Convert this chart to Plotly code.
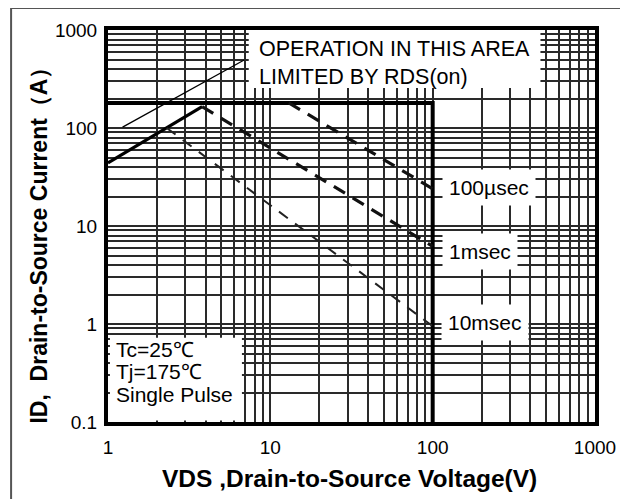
import plotly.graph_objects as go

# ---- data ----
rds_v = [1.23, 6.9]
rds_i = [102, 494]

limit_v = [1.0, 3.8]
limit_i = [44, 165]

box_v = [1.0, 100, 100]
box_i = [180, 180, 0.1]

us100_v = [13, 100]
us100_i = [180, 24]

ms1_v = [3.8, 100]
ms1_i = [165, 6.2]

ms10_v = [2.3, 100]
ms10_i = [100, 0.95]

x_ticks = [1, 10, 100, 1000]
y_ticks = [0.1, 1, 10, 100, 1000]

FONT = "Arial, Liberation Sans, sans-serif"

def grid_vals(lo_exp, hi_exp):
    vals = []
    for e in range(lo_exp, hi_exp):
        for m in range(1, 10):
            vals.append(m * 10 ** e)
    vals.append(10 ** hi_exp)
    return vals

xv = grid_vals(0, 3)
yv = grid_vals(-1, 3)
xt = [(str(v) if v in x_ticks else "") for v in xv]
yt = [(("0.1" if v == 0.1 else str(int(v))) if any(abs(v - t) < 1e-9 for t in y_ticks) else "") for v in yv]

fig = go.Figure()
fig.add_trace(go.Scatter(x=rds_v, y=rds_i, mode="lines", line=dict(color="black", width=1.3), showlegend=False))
fig.add_trace(go.Scatter(x=limit_v, y=limit_i, mode="lines", line=dict(color="black", width=3.2), showlegend=False))
fig.add_trace(go.Scatter(x=box_v, y=box_i, mode="lines", line=dict(color="black", width=4), showlegend=False))
fig.add_trace(go.Scatter(x=us100_v, y=us100_i, mode="lines", line=dict(color="#111", width=3.2, dash="13px,9px"), showlegend=False))
fig.add_trace(go.Scatter(x=ms1_v, y=ms1_i, mode="lines", line=dict(color="#111", width=3.2, dash="13px,9px"), showlegend=False))
fig.add_trace(go.Scatter(x=ms10_v, y=ms10_i, mode="lines", line=dict(color="#222", width=2, dash="11px,9px"), showlegend=False))

# white backing boxes
fig.add_shape(type="rect", xref="paper", yref="paper", x0=0.289, x1=0.888, y0=0.852, y1=1.0,
              fillcolor="white", line=dict(width=0), layer="above")
fig.add_shape(type="rect", xref="paper", yref="paper", x0=0.004, x1=0.275, y0=0.004, y1=0.215,
              fillcolor="white", line=dict(width=0), layer="above")

# outer frame (left & top edges visible)
fig.add_shape(type="line", xref="paper", yref="paper", x0=-0.199, x1=-0.199, y0=1.056, y1=-0.3,
              line=dict(color="#555", width=2))
fig.add_shape(type="line", xref="paper", yref="paper", x0=-0.199, x1=1.1, y0=1.056, y1=1.056,
              line=dict(color="#555", width=2))

ann = []
ann.append(dict(text="OPERATION IN THIS AREA<br>LIMITED BY RDS(on)", xref="paper", yref="paper",
                x=0.305, y=0.988, xanchor="left", yanchor="top", align="left", showarrow=False,
                font=dict(family=FONT, size=21.5, color="black")))
for txt, x, y in [("100µsec", 0.782, 0.597), ("1msec", 0.764, 0.434), ("10msec", 0.774, 0.253)]:
    ann.append(dict(text=txt, xref="paper", yref="paper", x=x, y=y, xanchor="center", yanchor="middle",
                    showarrow=False, bgcolor="white", borderpad=6,
                    font=dict(family=FONT, size=21, color="black")))
for txt, y in [("Tc=25℃", 0.184), ("Tj=175℃", 0.128), ("Single Pulse", 0.069)]:
    ann.append(dict(text=txt, xref="paper", yref="paper", x=0.012, y=y, xanchor="left", yanchor="middle",
                    showarrow=False, font=dict(family=FONT, size=21, color="black")))
ann.append(dict(text="<b>VDS ,Drain-to-Source Voltage(V)</b>", xref="paper", yref="paper",
                x=0.495, y=-0.143, xanchor="center", yanchor="middle", showarrow=False,
                font=dict(family=FONT, size=24.5, color="black")))
ann.append(dict(text="<b>ID,  Drain-to-Source Current（A）</b>", xref="paper", yref="paper",
                x=-0.142, y=0.465, xanchor="center", yanchor="middle", showarrow=False, textangle=-90,
                font=dict(family=FONT, size=23, color="black")))

# page body has an 8px default margin, so the figure is sized/offset to compensate
fig.update_layout(
    width=620, height=491,
    margin=dict(l=100, r=22, t=22, b=77),
    paper_bgcolor="white", plot_bgcolor="white",
    annotations=ann,
    xaxis=dict(type="log", range=[0, 3], tickmode="array", tickvals=xv, ticktext=xt,
               showgrid=True, gridcolor="#2a2a2a", gridwidth=1.7, zeroline=False,
               showline=True, linecolor="black", linewidth=4, mirror=True, ticks="",
               ticklabelstandoff=5,
               tickfont=dict(family=FONT, size=19, color="black")),
    yaxis=dict(type="log", range=[-1, 3], tickmode="array", tickvals=yv, ticktext=yt,
               showgrid=True, gridcolor="#2a2a2a", gridwidth=1.7, zeroline=False,
               showline=True, linecolor="black", linewidth=4, mirror=True, ticks="",
               ticklabelstandoff=3,
               tickfont=dict(family=FONT, size=19, color="black")),
)

fig.write_html("out.html")
